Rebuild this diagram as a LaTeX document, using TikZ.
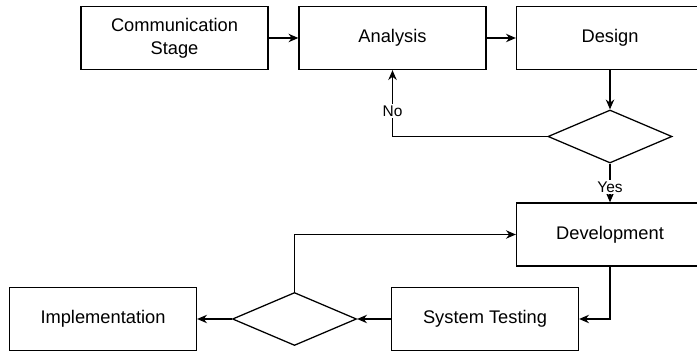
\documentclass[tikz,border=0pt]{standalone}
\usepackage{fontspec}
\setmainfont{Liberation Sans}
\usetikzlibrary{shapes.geometric,arrows.meta}

\begin{document}
\begin{tikzpicture}[x=0.025cm,y=-0.025cm,
  stage/.style={draw,line width=0.9pt,rectangle,minimum width=4.675cm,minimum height=1.575cm,
    align=center,font=\fontsize{13}{16.3}\selectfont},
  check/.style={draw,line width=0.9pt,diamond,inner sep=0pt,minimum width=3.1cm,minimum height=1.325cm},
  flow/.style={draw,line width=0.9pt,-{Stealth[length=7pt,width=6pt]}},
  answer/.style={fill=white,inner sep=1pt,font=\fontsize{11}{13}\selectfont}]
\clip (0,0) rectangle (697,353);

\node[stage] (comm) at (174.5,38) {Communication\\Stage};
\node[stage] (analysis) at (392.5,38) {Analysis};
\node[stage] (design) at (610,38) {Design};
\node[check] (check1) at (610,136.5) {};
\node[stage] (dev) at (610,234.5) {Development};
\node[stage] (test) at (485,319) {System Testing};
\node[check] (check2) at (294.5,319) {};
\node[stage] (impl) at (103,319) {Implementation};

\path[flow] (comm) -- (analysis);
\path[flow] (analysis) -- (design);
\path[flow] (design) -- (check1);
\path[flow] (check1.west) -| node[answer,pos=0.69] {No} (analysis.south);
\path[flow] (check1.south) -- node[answer,pos=0.6] {Yes} (dev.north);
\path[flow] (dev.south) |- (test.east);
\path[flow] (test) -- (check2);
\path[flow] (check2) -- (impl);
\path[flow] (check2.north) |- (dev.west);
\end{tikzpicture}
\end{document}
